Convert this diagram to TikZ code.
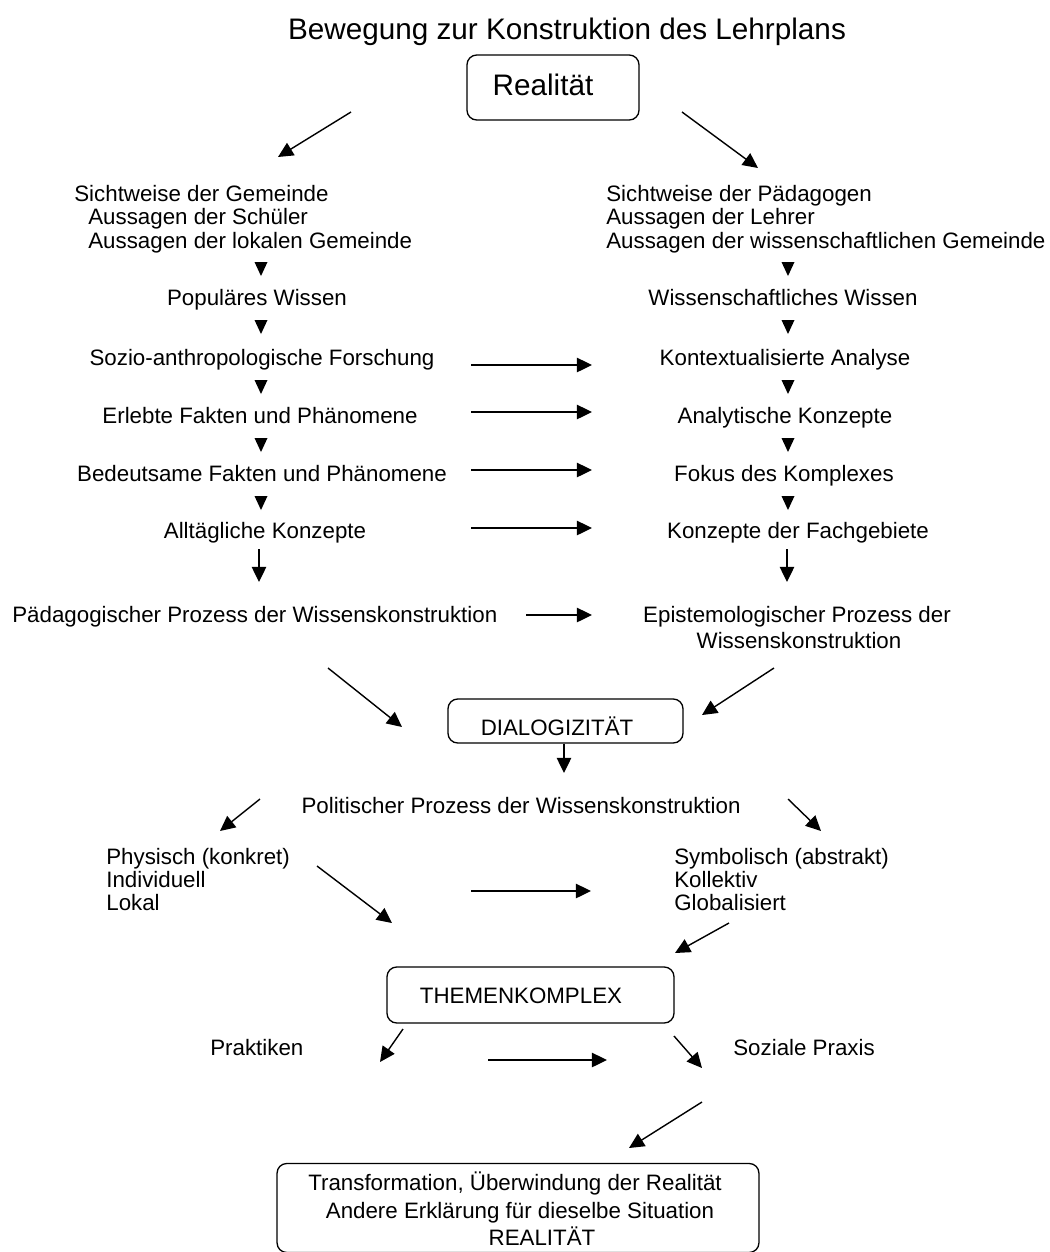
\documentclass[tikz,border=0pt]{standalone}
\usepackage{fontspec}
\setmainfont{Liberation Sans}
\usetikzlibrary{arrows.meta}
\tikzstyle{every picture}+=[x=0.02cm,y=-0.02cm]
\tikzstyle{txt}=[inner sep=0pt,anchor=base,font=\fontsize{12.7}{15}\selectfont]
\tikzstyle{ltxt}=[txt,anchor=base west]
\tikzstyle{bigtxt}=[txt,font=\fontsize{16.9}{20}\selectfont]
\tikzstyle{rbox}=[draw,line width=0.75pt,rounded corners=5.5pt,inner sep=0pt]
\tikzstyle{pfeil}=[-{Triangle[length=8.6pt,width=8.2pt]},line width=0.8pt]

\begin{document}
\begin{tikzpicture}
\useasboundingbox (0,0) rectangle (1050,1252);
\node[bigtxt] (titel) at (567,39) {Bewegung zur Konstruktion des Lehrplans};
\node[rbox,minimum width=3.44cm,minimum height=1.3cm] (realbox) at (553,87.5) {};
\node[bigtxt] (real) at (543,95) {Realität};
\node[ltxt] (sg) at (74,201) {Sichtweise der Gemeinde};
\node[ltxt] (as) at (88,224) {Aussagen der Schüler};
\node[ltxt] (al) at (88,248) {Aussagen der lokalen Gemeinde};
\node[ltxt] (sp) at (606,201) {Sichtweise der Pädagogen};
\node[ltxt] (alehrer) at (606,224) {Aussagen der Lehrer};
\node[ltxt] (aw) at (606,248) {Aussagen der wissenschaftlichen Gemeinde};
\node[txt] (pw) at (257,305) {Populäres Wissen};
\node[txt] (ww) at (783,305) {Wissenschaftliches Wissen};
\node[txt] (sa) at (262,365) {Sozio-anthropologische Forschung};
\node[txt] (ka) at (785,365) {Kontextualisierte Analyse};
\node[txt] (ef) at (260,423) {Erlebte Fakten und Phänomene};
\node[txt] (ank) at (785,423) {Analytische Konzepte};
\node[txt] (bf) at (262,481) {Bedeutsame Fakten und Phänomene};
\node[txt] (fk) at (784,481) {Fokus des Komplexes};
\node[txt] (alk) at (265,538) {Alltägliche Konzepte};
\node[txt] (kf) at (798,538) {Konzepte der Fachgebiete};
\node[ltxt] (pp) at (12,622) {Pädagogischer Prozess der Wissenskonstruktion};
\node[txt] (ep) at (797,622) {Epistemologischer Prozess der};
\node[txt] (wk) at (799,648) {Wissenskonstruktion};
\node[rbox,minimum width=4.7cm,minimum height=0.88cm] (diabox) at (565.5,721) {};
\node[txt] (dia) at (557,735) {DIALOGIZITÄT};
\node[txt] (pol) at (521,813) {Politischer Prozess der Wissenskonstruktion};
\node[ltxt] (phy) at (106,864) {Physisch (konkret)};
\node[ltxt] (ind) at (106,887) {Individuell};
\node[ltxt] (lok) at (106,910) {Lokal};
\node[ltxt] (sym) at (674,864) {Symbolisch (abstrakt)};
\node[ltxt] (kol) at (674,887) {Kollektiv};
\node[ltxt] (glo) at (674,910) {Globalisiert};
\node[rbox,minimum width=5.74cm,minimum height=1.12cm] (thbox) at (530.5,995) {};
\node[txt] (th) at (521,1003) {THEMENKOMPLEX};
\node[ltxt] (pra) at (210,1055) {Praktiken};
\node[ltxt] (soz) at (733,1055) {Soziale Praxis};
\node[rbox,minimum width=9.64cm,minimum height=1.78cm] (endbox) at (518,1208) {};
\node[txt] (tr1) at (515,1190) {Transformation, Überwindung der Realität};
\node[txt] (tr2) at (520,1218) {Andere Erklärung für dieselbe Situation};
\node[txt] (tr3) at (542,1245) {REALITÄT};

\coordinate (r1) at (351,112); \coordinate (r2) at (278,157);
\coordinate (r3) at (682,112); \coordinate (r4) at (758,168);
\coordinate (h1) at (471,365); \coordinate (h2) at (592,365);
\coordinate (h3) at (471,412); \coordinate (h4) at (592,412);
\coordinate (h5) at (471,470); \coordinate (h6) at (592,470);
\coordinate (h7) at (471,528); \coordinate (h8) at (592,528);
\coordinate (s1) at (259,549); \coordinate (s2) at (259,582);
\coordinate (s3) at (787,549); \coordinate (s4) at (787,582);
\coordinate (h9) at (526,615); \coordinate (h10) at (592,615);
\coordinate (d1) at (328,668); \coordinate (d2) at (402,727);
\coordinate (d3) at (774,668); \coordinate (d4) at (702,715);
\coordinate (d5) at (260,799); \coordinate (d6) at (220,831);
\coordinate (d7) at (788,799); \coordinate (d8) at (821,831);
\coordinate (d9) at (317,866); \coordinate (d10) at (392,923);
\coordinate (h11) at (471,891); \coordinate (h12) at (591,891);
\coordinate (d11) at (729,923); \coordinate (d12) at (675,953);
\coordinate (d13) at (403,1029); \coordinate (d14) at (380,1062);
\coordinate (h13) at (488,1060); \coordinate (h14) at (607,1060);
\coordinate (d15) at (674,1036); \coordinate (d16) at (702,1068);
\coordinate (d17) at (702,1102); \coordinate (d18) at (629,1148);

\draw[pfeil] (r1) -- (r2);
\draw[pfeil] (r3) -- (r4);
\draw[pfeil] (h1) -- (h2);
\draw[pfeil] (h3) -- (h4);
\draw[pfeil] (h5) -- (h6);
\draw[pfeil] (h7) -- (h8);
\draw[pfeil] (s1) -- (s2);
\draw[pfeil] (s3) -- (s4);
\draw[pfeil] (h9) -- (h10);
\draw[pfeil] (d1) -- (d2);
\draw[pfeil] (d3) -- (d4);
\draw[pfeil] (diabox.south -| 564,0) -- (564,773);
\draw[pfeil] (d5) -- (d6);
\draw[pfeil] (d7) -- (d8);
\draw[pfeil] (d9) -- (d10);
\draw[pfeil] (h11) -- (h12);
\draw[pfeil] (d11) -- (d12);
\draw[pfeil] (d13) -- (d14);
\draw[pfeil] (h13) -- (h14);
\draw[pfeil] (d15) -- (d16);
\draw[pfeil] (d17) -- (d18);

\foreach \y in {262,320,380,438,496} {
  \fill (254.5,\y) -- (267.5,\y) -- (261,\y+14) -- cycle;
  \fill (781.5,\y) -- (794.5,\y) -- (788,\y+14) -- cycle;
}
\end{tikzpicture}
\end{document}
